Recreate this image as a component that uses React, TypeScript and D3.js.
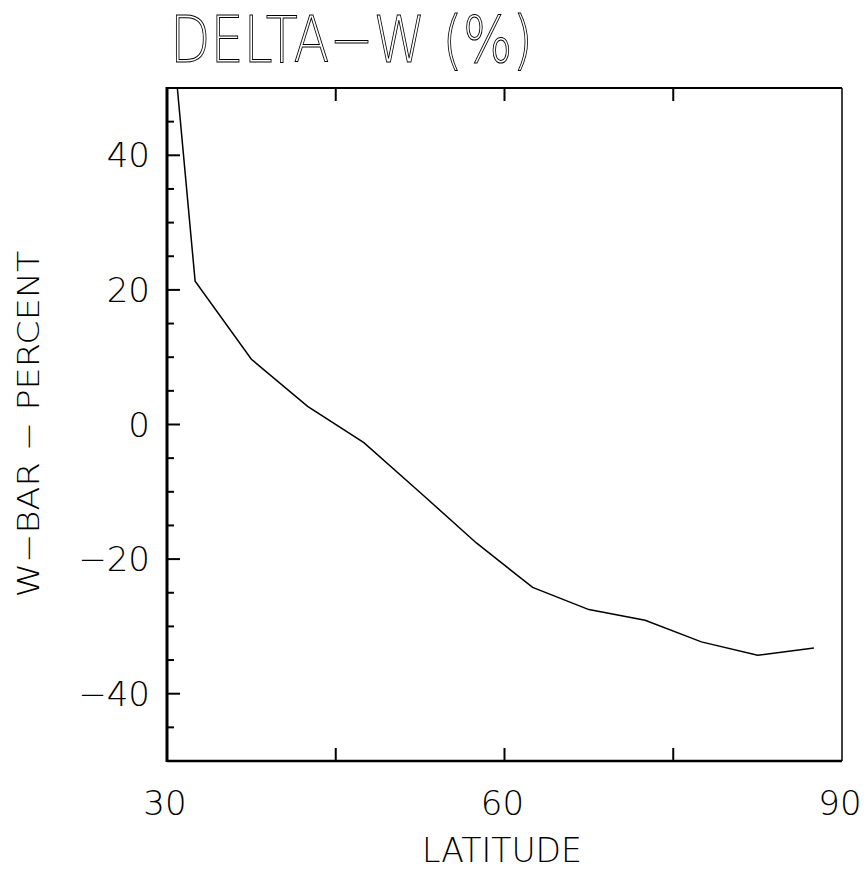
import React from "react";
import * as d3 from "d3";

// Zonal-mean change of W by 5-degree latitude band
const latitudes = [27.5, 32.5, 37.5, 42.5, 47.5, 52.5, 57.5, 62.5, 67.5, 72.5, 77.5, 82.5, 87.5];
const deltaW = [112, 21.3, 9.7, 2.7, -2.7, -10.1, -17.6, -24.2, -27.5, -29.1, -32.3, -34.3, -33.2];

const xLabeled = [30, 60, 90];
const xTicks = [45, 60, 75];
const yLabeled = [-40, -20, 0, 20, 40];
const yMinor = d3.range(-45, 50, 5);

const titleText = "DELTA\u2212W (%)";
const xTitle = "LATITUDE";
const yTitle = "W\u2212BAR \u2212 PERCENT";

const W = 867;
const H = 874;
const left = 167;
const right = 842;
const top = 88;
const bottom = 761;
const font = "'DejaVu Sans', sans-serif";

export default function App() {
  const x = d3.scaleLinear().domain([30, 90]).range([left, right]);
  const y = d3.scaleLinear().domain([-50, 50]).range([bottom, top]);
  const line = d3
    .line<number>()
    .x((_, i) => x(latitudes[i]))
    .y((d) => y(d));

  return (
    <svg
      width={W}
      height={H}
      style={{ position: "absolute", left: 0, top: 0, background: "#fff" }}
    >
      <defs>
        <clipPath id="plotArea">
          <rect x={left} y={top} width={right - left} height={bottom - top} />
        </clipPath>
      </defs>

      {/* title, drawn as outlined lettering */}
      <text
        x={170}
        y={62}
        fontFamily={font}
        fontSize={64}
        fontWeight={200}
        fill="#fff"
        stroke="#000"
        strokeWidth={1}
        textLength={363}
        lengthAdjust="spacingAndGlyphs"
      >
        {titleText}
      </text>

      {/* data */}
      <path
        d={line(deltaW) ?? ""}
        fill="none"
        stroke="#000"
        strokeWidth={1.5}
        clipPath="url(#plotArea)"
      />

      {/* y ticks */}
      {yMinor.map((v) => {
        const major = yLabeled.includes(v);
        return (
          <line
            key={"ym" + v}
            x1={left}
            x2={left + (major ? 13 : 7)}
            y1={y(v)}
            y2={y(v)}
            stroke="#000"
            strokeWidth={2}
          />
        );
      })}
      {/* x ticks, bottom and top */}
      {xTicks.map((v) => (
        <g key={"xt" + v}>
          <line x1={x(v)} x2={x(v)} y1={bottom} y2={bottom - 13} stroke="#000" strokeWidth={2} />
          <line x1={x(v)} x2={x(v)} y1={top} y2={top + 13} stroke="#000" strokeWidth={2} />
        </g>
      ))}

      {/* frame */}
      <line x1={left} x2={right} y1={top} y2={top} stroke="#000" strokeWidth={2} />
      <line x1={right} x2={right} y1={top} y2={bottom} stroke="#000" strokeWidth={1.5} />
      <line x1={left} x2={right} y1={bottom} y2={bottom} stroke="#000" strokeWidth={2.5} />
      <line x1={left} x2={left} y1={top - 1} y2={bottom + 1} stroke="#000" strokeWidth={3} />

      {/* y tick labels */}
      {yLabeled.map((v) => (
        <text
          key={"yl" + v}
          x={150}
          y={y(v) + 12}
          textAnchor="end"
          fontFamily={font}
          fontSize={34}
          fontWeight={200}
          fill="#000"
        >
          {v < 0 ? "\u2212" + Math.abs(v) : String(v)}
        </text>
      ))}

      {/* x tick labels */}
      {xLabeled.map((v) => (
        <text
          key={"xl" + v}
          x={x(v) - 2}
          y={815}
          textAnchor="middle"
          fontFamily={font}
          fontSize={34}
          fontWeight={200}
          fill="#000"
        >
          {v}
        </text>
      ))}

      {/* axis titles */}
      <text
        x={502}
        y={862}
        textAnchor="middle"
        fontFamily={font}
        fontSize={33}
        fontWeight={200}
        fill="#000"
        textLength={160}
        lengthAdjust="spacingAndGlyphs"
      >
        {xTitle}
      </text>
      <text
        transform="translate(39,424) rotate(-90)"
        textAnchor="middle"
        fontFamily={font}
        fontSize={31}
        fontWeight={200}
        fill="#000"
        textLength={347}
        lengthAdjust="spacingAndGlyphs"
      >
        {yTitle}
      </text>
    </svg>
  );
}
